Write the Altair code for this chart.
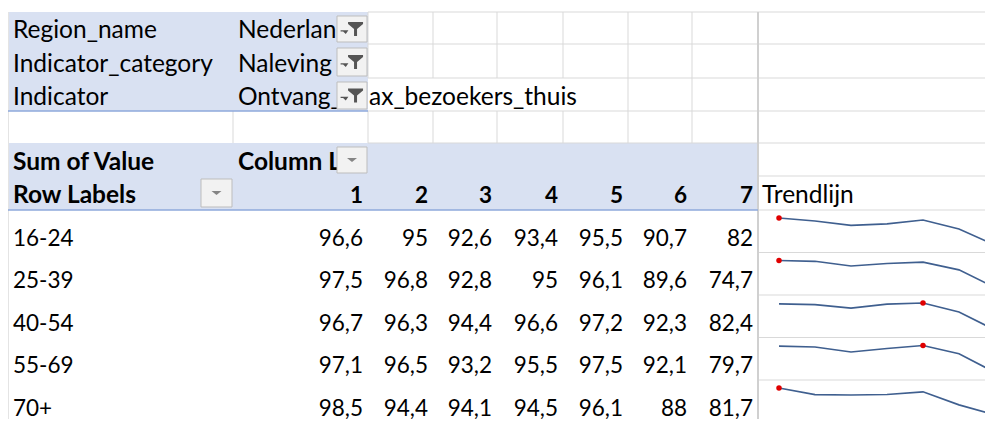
import altair as alt
import pandas as pd

# ---------------- data ----------------
filter_fields = ["Region_name", "Indicator_category", "Indicator"]
filter_values = ["Nederland", "Naleving", "Ontvang_max_bezoekers_thuis"]
value_title = "Sum of Value"
column_title = "Column Labels"
row_title = "Row Labels"
trend_title = "Trendlijn"
periods = [1, 2, 3, 4, 5, 6, 7]
age_groups = ["16-24", "25-39", "40-54", "55-69", "70+"]
vals_16_24 = [96.6, 95.0, 92.6, 93.4, 95.5, 90.7, 82.0]
vals_25_39 = [97.5, 96.8, 92.8, 95.0, 96.1, 89.6, 74.7]
vals_40_54 = [96.7, 96.3, 94.4, 96.6, 97.2, 92.3, 82.4]
vals_55_69 = [97.1, 96.5, 93.2, 95.5, 97.5, 92.1, 79.7]
vals_70_plus = [98.5, 94.4, 94.1, 94.5, 96.1, 88.0, 81.7]
series = [vals_16_24, vals_25_39, vals_40_54, vals_55_69, vals_70_plus]

# ---------------- layout (px, chart space) ----------------
W, H = 977, 411
col_edges = [0, 225, 360, 425, 489, 555, 620, 684, 750, 1002]
row_edges = [4, 36, 70, 103, 135, 168, 202, 244.5, 287, 329.5, 372, 414.5]
FONT = "Lato"
FS_TXT = 24.5
FS_NUM = 22.5
BLUE_FILL = "#D9E1F2"
BLUE_LINE = "#8EA9DB"
GRID = "#D9D9D9"
SX0, SDX, SPAD, SH = 771, 36, 8, 27


def fmt(v):
    return f"{v:g}".replace(".", ",")


# ---------------- texts ----------------
texts = []
for i, (f, v) in enumerate(zip(filter_fields, filter_values)):
    yb = row_edges[i + 1] - 6
    texts.append((col_edges[0] + 5, yb, f, "L"))
    if i < 2:
        texts.append((col_edges[1] + 5, yb, v, "CL"))
    else:
        texts.append((col_edges[1] + 5, yb, v[:9], "CL"))
        texts.append((col_edges[2] + 1, yb, v[9:], "L"))
texts.append((col_edges[0] + 5, row_edges[5] - 6, value_title, "BL"))
texts.append((col_edges[1] + 5, row_edges[5] - 6, column_title, "CB"))
texts.append((col_edges[0] + 5, row_edges[6] - 7, row_title, "BL"))
for p in periods:
    texts.append((col_edges[p + 1] - 5, row_edges[6] - 7, str(p), "BR"))
texts.append((col_edges[8] + 4, row_edges[6] - 7, trend_title, "L"))
for r, (age, vals) in enumerate(zip(age_groups, series)):
    yb = row_edges[7 + r] - 7
    texts.append((col_edges[0] + 5, yb, age, "N"))
    for p, v in zip(periods, vals):
        texts.append((col_edges[p + 1] - 5, yb, fmt(v), "R"))
text_df = pd.DataFrame(texts, columns=["x", "y", "t", "kind"])

# ---------------- fills ----------------
fill_df = pd.DataFrame([
    (col_edges[0], col_edges[2], row_edges[0], row_edges[3], BLUE_FILL),
    (col_edges[0], col_edges[8], row_edges[4], row_edges[6], BLUE_FILL),
], columns=["x", "x2", "y", "y2", "c"])

# ---------------- grid lines ----------------
rules = []
for k in range(0, 5):
    rules.append((col_edges[2], W + 10, row_edges[k], row_edges[k], GRID, 1))
for k in range(5, 11):
    rules.append((col_edges[8], W + 10, row_edges[k], row_edges[k], GRID, 1))
for k in range(2, 8):
    rules.append((col_edges[k], col_edges[k], row_edges[0], row_edges[2], GRID, 1))
    rules.append((col_edges[k], col_edges[k], row_edges[3], row_edges[4], GRID, 1))
for k in (6, 7):
    rules.append((col_edges[k], col_edges[k], row_edges[2], row_edges[3], GRID, 1))
rules.append((col_edges[1], col_edges[1], row_edges[3], row_edges[4], GRID, 1))
rules.append((col_edges[8], col_edges[8], row_edges[0], H + 10, "#D0D0D0", 2))
rules.append((0.5, 0.5, row_edges[0], H + 10, "#E4E4E4", 1))
rules.append((col_edges[0], col_edges[2], row_edges[3], row_edges[3], BLUE_LINE, 1.5))
rules.append((col_edges[0], col_edges[8], row_edges[6], row_edges[6], BLUE_LINE, 1.5))
rule_df = pd.DataFrame(rules, columns=["x", "x2", "y", "y2", "c", "w"])

# ---------------- buttons ----------------
buttons = []
for i in range(3):
    buttons.append((col_edges[2] - 31, col_edges[2] - 1, row_edges[i] + 4, row_edges[i + 1] - 2, "filter"))
buttons.append((col_edges[2] - 31, col_edges[2] - 1, row_edges[4] + 4, row_edges[5] - 3, "drop"))
buttons.append((col_edges[1] - 32, col_edges[1] - 1, row_edges[5] + 3, row_edges[6] - 3, "drop"))
btn_df = pd.DataFrame(buttons, columns=["x", "x2", "y", "y2", "kind"])
btn_df["cx"] = (btn_df["x"] + btn_df["x2"]) / 2
btn_df["cy"] = (btn_df["y"] + btn_df["y2"]) / 2

FUNNEL = ("M-0.33,-0.58 L0.92,-0.58 L0.92,-0.42 L0.42,0.0 L0.42,0.58 L0.17,0.58 "
          "L0.17,0.0 L-0.33,-0.42 Z M-0.95,0.1 L-0.3,0.1 L-0.52,0.42 L-0.74,0.2 L-0.95,0.2 Z")
ARROW = "M-1,-0.4 L1,-0.4 L0,0.4 Z"

# ---------------- sparkline data ----------------
spark_rows = []
for r, (age, vals) in enumerate(zip(age_groups, series)):
    for p, v in zip(periods, vals):
        spark_rows.append((age, p, v, row_edges[6 + r]))
spark_df = pd.DataFrame(spark_rows, columns=["age", "period", "value", "row_top"])

# ---------------- chart ----------------
xs = alt.Scale(domain=[0, W], range=[0, W], nice=False, zero=False)
ys = alt.Scale(domain=[0, H], range=[0, H], nice=False, zero=False)


def X(f):
    return alt.X(f, scale=xs, axis=None)


def Y(f):
    return alt.Y(f, scale=ys, axis=None)


fills = alt.Chart(fill_df).mark_rect().encode(
    x=X("x:Q"), x2="x2:Q", y=Y("y:Q"), y2="y2:Q", color=alt.Color("c:N", scale=None))

grid = alt.Chart(rule_df).mark_rule().encode(
    x=X("x:Q"), x2="x2:Q", y=Y("y:Q"), y2="y2:Q",
    color=alt.Color("c:N", scale=None), strokeWidth=alt.StrokeWidth("w:Q", scale=None))


def tl(kind, size, **kw):
    return alt.Chart(text_df[text_df.kind == kind]).mark_text(
        font=FONT, fontSize=size, baseline="alphabetic", color="#000000", **kw
    ).encode(x=X("x:Q"), y=Y("y:Q"), text="t:N")


t_l = tl("L", FS_TXT, align="left")
t_n = tl("N", FS_NUM, align="left")
t_r = tl("R", FS_NUM, align="right")
t_bl = tl("BL", FS_TXT, align="left", fontWeight="bold")
t_br = tl("BR", FS_NUM, align="right", fontWeight="bold")
t_cl = tl("CL", FS_TXT, align="left", limit=128, ellipsis="")
t_cb = tl("CB", FS_TXT, align="left", fontWeight="bold", limit=128, ellipsis="")

btn = alt.Chart(btn_df).mark_rect(fill="#F2F2F2", stroke="#BDBDBD", strokeWidth=1).encode(
    x=X("x:Q"), x2="x2:Q", y=Y("y:Q"), y2="y2:Q")
icon_f = alt.Chart(btn_df[btn_df.kind == "filter"]).mark_point(
    shape=FUNNEL, filled=True, color="#555555", size=576, opacity=1, strokeWidth=0
).encode(x=X("cx:Q"), y=Y("cy:Q"))
icon_d = alt.Chart(btn_df[btn_df.kind == "drop"]).mark_point(
    shape=ARROW, filled=True, color="#858585", size=100, opacity=1, strokeWidth=0
).encode(x=X("cx:Q"), y=Y("cy:Q"))

spark = alt.Chart(spark_df).transform_joinaggregate(
    vmin="min(value)", vmax="max(value)", groupby=["age"]
).transform_calculate(
    sx=f"{SX0} + (datum.period - 1) * {SDX}",
    sy=f"datum.row_top + {SPAD} + (datum.vmax - datum.value) / (datum.vmax - datum.vmin) * {SH}",
)
line = spark.mark_line(color="#3F5F8F", strokeWidth=1.6).encode(
    x=X("sx:Q"), y=Y("sy:Q"), detail="age:N", order="period:Q")
dots = spark.transform_filter("datum.value == datum.vmax").mark_point(
    filled=True, color="#E00000", size=30, opacity=1, strokeWidth=0
).encode(x=X("sx:Q"), y=Y("sy:Q"))

chart = alt.layer(
    fills, grid, t_l, t_n, t_r, t_bl, t_br, t_cl, t_cb, btn, icon_f, icon_d, line, dots
).properties(
    width=W, height=H, padding=0, autosize=alt.AutoSizeParams(type="none")
).configure_view(stroke=None)

chart.save("out.html", embed_options={"renderer": "svg", "actions": False})
